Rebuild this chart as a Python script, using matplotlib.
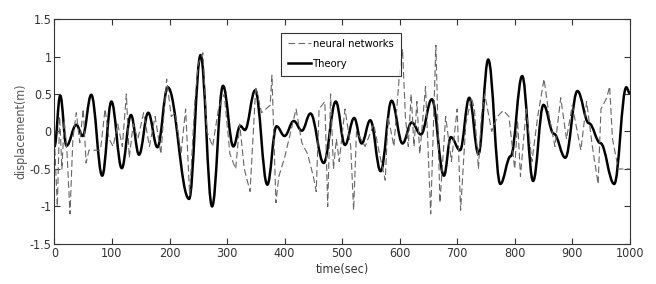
import matplotlib
matplotlib.use("Agg")
import matplotlib.pyplot as plt
from matplotlib.path import Path
from matplotlib.patches import PathPatch
from matplotlib.lines import Line2D

# Theory curve: readings (time, displacement), mostly its turning points
theory_t = [0, 10, 21, 38, 49, 64, 83, 99, 117, 133, 147, 163, 179, 197, 234, 254, 274, 293,
            311, 323, 331, 349, 370, 386, 400, 416, 430, 445, 468, 489, 505, 521, 534, 549,
            567, 586, 605, 621, 637, 656, 677, 689, 705, 721, 737, 754, 775, 793, 813, 832, 850,
            868, 888, 909, 929, 949, 973, 994, 1000]
theory_y = [-0.2, 0.48, -0.19, 0.09, -0.06, 0.49, -0.59, 0.40, -0.49, 0.22, -0.31, 0.25, -0.21, 0.59,
            -0.90, 1.02, -1.0, 0.61, -0.2, 0.075, 0.02, 0.55, -0.71, 0.07, -0.06, 0.14, 0.01, 0.24, -0.42,
            0.40, -0.18, 0.18, -0.16, 0.15, -0.53, 0.41, -0.16, 0.12, -0.04, 0.43, -0.59, -0.075,
            -0.25, 0.45, -0.30, 0.96, -0.70, -0.33, 0.74, -0.66, 0.355, -0.03, -0.35, 0.54, 0.11,
            -0.155, -0.70, 0.59, 0.51]

# Neural network curve: readings (time, displacement)
nn_t = [0, 5, 9, 13, 17, 22, 27, 32, 38, 44, 50, 55, 60, 70, 80, 88, 95, 102, 110, 118, 125, 130, 137,
        145, 155, 165, 175, 185, 195, 203, 210, 220, 228, 235, 244, 250, 258, 265, 275, 285, 295, 305,
        315, 322, 330, 340, 350, 360, 375, 378, 385, 390, 400, 420, 430, 440, 450, 455, 460, 470, 475,
        480, 485, 490, 495, 505, 515, 520, 525, 540, 555, 565, 575, 580, 590, 595, 600, 605, 610, 615,
        620, 625, 630, 635, 645, 654, 663, 670, 680, 690, 700, 706, 715, 725, 730, 737, 742, 748, 760,
        770, 780, 790, 800, 805, 810, 820, 830, 840, 851, 860, 870, 880, 890, 900, 915, 925, 935, 945,
        950, 960, 965, 970, 980, 990, 1000]
nn_y = [-0.1, -1.0, 0.2, -0.5, 0.15, -0.3, -1.1, -0.1, 0.25, -0.15, 0.3, -0.42, -0.25, -0.25, -0.25, 0.3,
        -0.1, -0.2, 0.1, -0.2, 0.5, -0.35, 0.1, -0.1, 0.25, -0.2, 0.2, -0.3, 0.7, 0.2, 0.25, -0.3, 0.3,
        -0.85, 0.4, 0.9, 1.05, 0.0, -0.2, 0.3, 0.5, -0.3, -0.5, 0.1, -0.5, -0.8, 0.6, 0.25, 0.35, 0.75,
        -0.95, -0.6, -0.35, 0.3, -0.15, -0.3, -0.6, -0.8, 0.3, 0.4, -1.0, 0.5, -0.5, -0.1, -0.4, 0.3,
        -0.2, -1.05, 0.0, -0.2, 0.1, -0.3, -0.65, 0.2, -0.2, 0.3, 0.8, 1.1, 0.2, -0.2, 0.5, -0.2, 0.4,
        -0.3, 0.6, -1.1, 1.15, -0.95, 0.2, -0.4, 0.3, -1.05, 0.1, 0.45, 0.3, -0.5, 0.2, 0.5, 0.0, 0.2,
        0.28, 0.2, -0.5, 0.15, -0.6, 0.3, -0.4, 0.2, 0.7, 0.2, -0.2, 0.45, -0.1, 0.35, -0.25, 0.4, -0.2,
        -0.7, 0.3, 0.45, 0.6, -0.1, -0.5, -0.5, -0.5]

x_ticks = [0, 100, 200, 300, 400, 500, 600, 700, 800, 900, 1000]
y_ticks = [-1.5, -1, -0.5, 0, 0.5, 1, 1.5]
y_tick_labels = ["-1.5", "-1", "-0.5", "0", "0.5", "1", "1.5"]

plt.rcParams['font.family'] = ['DejaVu Sans']
plt.rcParams['font.stretch'] = 'condensed'

fig = plt.figure(figsize=(6.56, 2.84), dpi=100)
ax = fig.add_axes([0.083, 0.141, 0.877, 0.792])

ax.plot(nn_t, nn_y, linestyle=(0, (6, 3)), color='#666666', linewidth=0.8, label='neural networks')

# smooth curve through the theory readings (horizontal tangents at the turning points)
verts = [(theory_t[0], theory_y[0])]
codes = [Path.MOVETO]
for i in range(1, len(theory_t)):
    t0, y0 = theory_t[i - 1], theory_y[i - 1]
    t1, y1 = theory_t[i], theory_y[i]
    d = (t1 - t0) / 2.6
    verts += [(t0 + d, y0), (t1 - d, y1), (t1, y1)]
    codes += [Path.CURVE4] * 3
ax.add_patch(PathPatch(Path(verts, codes), fill=False, edgecolor='black', linewidth=1.8,
                       capstyle='round', joinstyle='round'))
theory_proxy = Line2D([], [], color='black', linewidth=1.8, label='Theory')

ax.set_xlim(0, 1000)
ax.set_ylim(-1.5, 1.5)
ax.set_xticks(x_ticks)
ax.set_yticks(y_ticks)
ax.set_yticklabels(y_tick_labels)
ax.tick_params(direction='in', top=True, right=True, length=4, labelsize=9, colors='#333333', pad=2)
for s in ax.spines.values():
    s.set_color('#333333')
    s.set_linewidth(0.8)

ax.set_xlabel('time(sec)', fontsize=9, color='#333333', labelpad=2)
ax.set_ylabel('displacement(m)', fontsize=9, color='#555555', labelpad=2)

handles = [ax.get_lines()[0], theory_proxy]
leg = ax.legend(handles=handles, loc='upper left', bbox_to_anchor=(0.394, 0.94), fontsize=8, frameon=True,
                fancybox=False, edgecolor='black', handlelength=2.1, borderpad=0.6,
                labelspacing=0.9, handletextpad=0.2, borderaxespad=0)
leg.get_frame().set_linewidth(0.8)

fig.savefig('out.png', dpi=100)
